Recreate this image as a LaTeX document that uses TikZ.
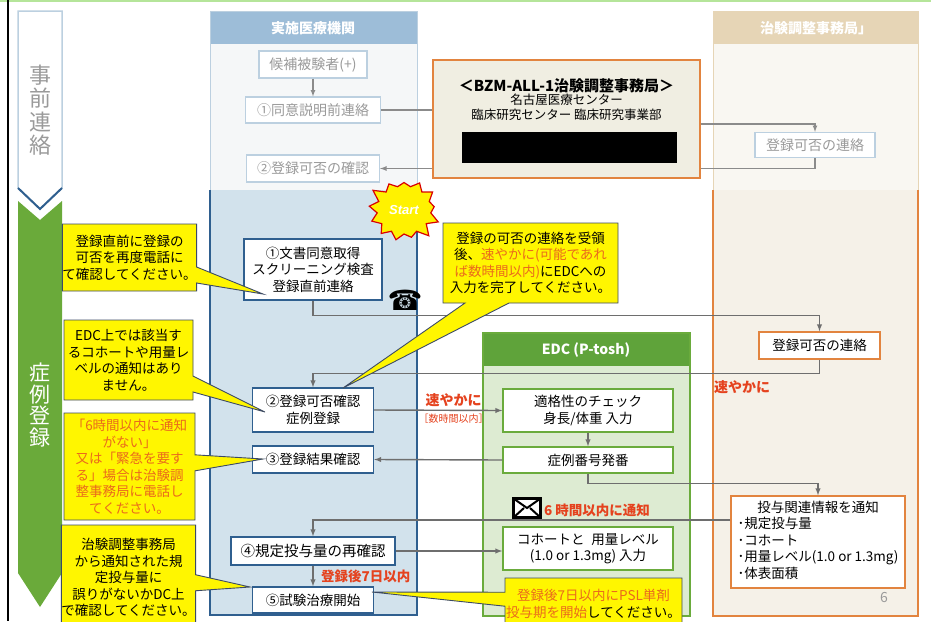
\documentclass[tikz,border=0pt]{standalone}
\usepackage{fontspec}
\setmainfont{Noto Sans CJK JP}
\newfontfamily\symfont{DejaVu Sans}
\newfontfamily\startfont{Liberation Sans}
\usetikzlibrary{arrows.meta,shapes.callouts,shapes.symbols}

\definecolor{boxblue}{HTML}{2F5F8F}
\definecolor{panelblue}{HTML}{D2E2EC}
\definecolor{headblue}{HTML}{9DBDD8}
\definecolor{fadeline}{HTML}{BCD0E0}
\definecolor{fadebg}{HTML}{F5F7F8}
\definecolor{fadetext}{HTML}{9A9A9A}
\definecolor{edchead}{HTML}{5FA33A}
\definecolor{edcbody}{HTML}{DDEBD2}
\definecolor{edcline}{HTML}{6AAB3C}
\definecolor{orgline}{HTML}{E2843F}
\definecolor{bzmfill}{HTML}{F0EEE2}
\definecolor{beige}{HTML}{F5F1E8}
\definecolor{beigefade}{HTML}{F9F7F2}
\definecolor{tanhead}{HTML}{E6D5B6}
\definecolor{notefill}{HTML}{FFF600}
\definecolor{noteline}{HTML}{3C4A66}
\definecolor{noteorange}{HTML}{EA6A1C}
\definecolor{alertred}{HTML}{E5421E}
\definecolor{conngray}{HTML}{6E6E6E}
\definecolor{arrowgreen}{HTML}{6AAA3A}
\definecolor{topgreen}{HTML}{B5E59A}

\tikzset{
  flowbox/.style={draw=boxblue, line width=1.4pt, fill=white, align=center, inner sep=0pt,
    font=\fontsize{13.5}{16.5}\selectfont},
  edcbox/.style={flowbox, draw=edcline},
  orgbox/.style={flowbox, draw=orgline},
  fadebox/.style={draw=fadeline, line width=1.2pt, fill=white, text=fadetext, inner sep=0pt,
    font=\fontsize{14}{16}\selectfont},
  conn/.style={draw=conngray, line width=1.4pt},
  fadeconn/.style={draw=conngray!80, line width=1.2pt},
  note/.style={rectangle callout, fill=notefill, draw=noteline, line width=0.9pt, align=center,
    inner sep=0pt, callout pointer width=16pt, font=\fontsize{13.5}{16.5}\selectfont},
  hot/.style={text=alertred, font=\fontsize{14}{16}\selectfont\bfseries},
  envelope/.style={draw=black, fill=white, line width=2.2pt, minimum width=27pt, minimum height=19pt,
    inner sep=0pt, path picture={
      \draw[line width=2pt] (path picture bounding box.north west) -- (path picture bounding box.center)
        -- (path picture bounding box.north east);
      \draw[line width=2pt] (path picture bounding box.south west) -- ([xshift=-3pt]path picture bounding box.center);
      \draw[line width=2pt] (path picture bounding box.south east) -- ([xshift=3pt]path picture bounding box.center);}},
}
\newcommand{\og}[1]{\textcolor{noteorange}{#1}}

\begin{document}
\begin{tikzpicture}[x=1pt,y=-1pt]
\useasboundingbox (0,0) rectangle (931,621);
\fill[white] (0,0) rectangle (931,621);
\draw[topgreen, line width=2pt] (0,1) -- (931,1);
\draw[black, line width=2pt] (8,0) -- (8,621);

% phase arrows on the left
\draw[fadeline, line width=1.5pt, fill=white] (18,11) -- (62,11) -- (62,188) -- (40,209) -- (18,188) -- cycle;
\draw[boxblue, line width=2pt] (18,188) -- (40,209) -- (62,188);
\fill[arrowgreen] (18,201) -- (40,220) -- (62,201) -- (62,573) -- (40,607) -- (18,573) -- cycle;
\node[text=fadetext, align=center, font=\fontsize{22}{23.5}\selectfont] (pre) at (40,110) {事\\前\\連\\絡};
\node[text=white, align=center, font=\fontsize{21}{21.5}\selectfont] (reg) at (40,405) {症\\例\\登\\録};

% site column
\fill[fadebg] (210,11) rectangle (417,190);
\fill[headblue] (210,11) rectangle (417,44);
\draw[fadeline, line width=1pt] (210,11) rectangle (417,190);
\fill[panelblue] (210,190) rectangle (417,615);
\draw[boxblue, line width=1.2pt] (210,190) -- (210,615) -- (417,615) -- (417,190);
\node[text=white, font=\fontsize{14}{16}\selectfont\bfseries] (sitehead) at (313,28) {実施医療機関};

% office column
\fill[beigefade] (713,11) rectangle (918,190);
\fill[tanhead] (713,11) rectangle (918,44);
\draw[tanhead, line width=1pt] (713,11) rectangle (918,190);
\fill[beige] (713,190) rectangle (918,616);
\draw[orgline, line width=1.2pt] (713,190) -- (713,616) -- (918,616) -- (918,190);
\node[text=white, font=\fontsize{14}{16}\selectfont\bfseries] (offhead) at (816,28) {治験調整事務局」};

% EDC column
\fill[edcbody] (483,333) rectangle (690,616);
\fill[edchead] (483,333) rectangle (690,366);
\draw[edcline, line width=1.2pt] (483,333) rectangle (690,616);
\node[text=white, font=\fontsize{14}{16}\selectfont\bfseries] (edctitle) at (586,350) {EDC (P-tosh)};

% coordinating office
\node[draw=orgline, line width=1.6pt, fill=bzmfill, minimum width=267pt, minimum height=118pt] (bzm) at (566.5,119) {};
\node[font=\fontsize{15}{17}\selectfont\bfseries] (bzmtitle) at (566.5,86) {＜BZM-ALL-1治験調整事務局＞};
\node[font=\fontsize{12.5}{15}\selectfont] (bzmline1) at (566.5,100) {名古屋医療センター};
\node[font=\fontsize{12.5}{15}\selectfont] (bzmline2) at (566.5,115) {臨床研究センター 臨床研究事業部};
\fill[black] (462,132) rectangle (677,163);

% advance contact
\node[fadebox, minimum width=108pt, minimum height=27pt] (f0) at (313,64.5) {候補被験者(+)};
\node[fadebox, minimum width=135pt, minimum height=26pt] (f1) at (313,110) {①同意説明前連絡};
\node[fadebox, minimum width=133pt, minimum height=27pt] (f2) at (313,168.5) {②登録可否の確認};
\node[fadebox, minimum width=120pt, minimum height=25pt] (fr) at (815,145) {登録可否の連絡};

\draw[fadeconn,-latex] (f0) -- (f1);
\draw[fadeconn] (f1.east) -- (f1.east -| bzm.west);
\draw[fadeconn,-latex] ([yshift=-5pt]bzm.east) -| (fr.north);
\draw[fadeconn] (fr.south) |- (f2.east -| bzm.east);
\draw[fadeconn,-latex] (f2.east -| bzm.west) -- (f2.east);

% registration
\node[flowbox, minimum width=138pt, minimum height=61pt] (s1) at (313,269.5) {①文書同意取得\\スクリーニング検査\\登録直前連絡};
\node[flowbox, minimum width=121pt, minimum height=44pt] (s2) at (313,410) {②登録可否確認\\症例登録};
\node[flowbox, minimum width=121pt, minimum height=27pt] (s3) at (313,459.5) {③登録結果確認};
\node[flowbox, minimum width=164pt, minimum height=28pt, font=\fontsize{14.5}{16.5}\selectfont] (s4) at (313,551) {④規定投与量の再確認};
\node[flowbox, minimum width=121pt, minimum height=26pt] (s5) at (313,600) {⑤試験治療開始};

\node[edcbox, minimum width=170pt, minimum height=43pt] (e1) at (588,410.5) {適格性のチェック\\身長/体重 入力};
\node[edcbox, minimum width=170pt, minimum height=26pt] (e2) at (588,460) {症例番号発番};
\node[edcbox, minimum width=170pt, minimum height=43pt] (e3) at (588,548.5) {コホートと\enspace 用量レベル\\(1.0 or 1.3mg) 入力};

\node[orgbox, minimum width=121pt, minimum height=27pt] (r2) at (819.5,345.5) {登録可否の連絡};
\node[orgbox, minimum width=174pt, minimum height=92pt] (info) at (818,542)
  {\begin{tabular}{@{}l@{}}\multicolumn{1}{@{}c@{}}{投与関連情報を通知}\\･規定投与量\\･コホート\\･用量レベル(1.0 or 1.3mg)\\･体表面積\end{tabular}};

\node[starburst, starburst points=13, starburst point height=11pt, random starburst=3, fill=yellow,
  draw=red!85!black, line width=1.2pt, minimum width=76pt, minimum height=70pt, inner sep=0pt,
  text=white, font=\fontsize{13}{14}\startfont\bfseries\itshape] (start) at (404,210) {Start};
\node[font=\fontsize{28}{28}\symfont] (phone) at (405,300) {☎};
\node[envelope] (mail) at (527,508) {};
\node[hot, font=\fontsize{13.5}{16}\selectfont\bfseries] (mailtxt) at (597,510) {6 時間以内に通知};
\node[hot] (soon) at (742,387) {速やかに};
\node[text=fadetext, font=\fontsize{14}{16}\selectfont] (pageno) at (884,597) {6};

\draw[conn,-latex] (s1.south) -- ++(0,15) -| (r2.north);
\draw[conn,-latex] (r2.south) -- ++(0,14) -| (s2.north);
\draw[conn,-latex] (s2.east) -- (e1.west)
  node[pos=0.62, above, hot] (soonb) {速やかに}
  node[pos=0.62, below, text=alertred, font=\fontsize{10}{12}\selectfont] (hours) {［数時間以内］};
\draw[conn,-latex] (e1) -- (e2);
\draw[conn,-latex] (e2.west) -- (s3.east);
\draw[conn,-latex] (e2.south) -- ++(0,10) -| (info.north);
\draw[conn,-latex] ([yshift=22pt]info.west) -| (s4.north);
\draw[conn,-latex] (s4.east) -- (s4.east -| e3.west);
\draw[conn,-latex] (s4) -- (s5) node[midway, right, xshift=4pt, hot, font=\fontsize{13.5}{16}\selectfont\bfseries] (week) {登録後7日以内};

% callouts
\coordinate (tip1) at (263,294);
\coordinate (tip2) at (265,412);
\coordinate (tip3) at (263,459);
\coordinate (tip4) at (250,587);
\coordinate (tip5) at (343,388);
\coordinate (tip6) at (372,592);
\node[note, minimum width=131pt, minimum height=67pt, callout absolute pointer={(tip1)}] (n1) at (129.5,257.5)
  {登録直前に登録の\\可否を再度電話に\\て確認してください。};
\node[note, minimum width=129pt, minimum height=80pt, callout absolute pointer={(tip2)}] (n2) at (128.5,360)
  {EDC上では該当す\\るコホートや用量レ\\ベルの通知はあり\\ません。};
\node[note, minimum width=131pt, minimum height=107pt, text=noteorange, callout absolute pointer={(tip3)}] (n3) at (129.5,466.5)
  {「6時間以内に通知\\がない」\\又は「緊急を要す\\る」場合は治験調\\整事務局に電話し\\てください。};
\node[note, minimum width=129pt, minimum height=105pt, callout absolute pointer={(tip4)}] (n4) at (128.5,577.5)
  {治験調整事務局\\から通知された規\\定投与量に\\誤りがないかDC上\\で確認してください。};
\node[note, minimum width=175pt, minimum height=80pt, callout pointer width=44pt, callout absolute pointer={(tip5)}] (n5) at (530.5,263)
  {登録の可否の連絡を受領\\後、\og{速やかに(可能であれ}\\\og{ば数時間以内)}にEDCへの\\入力を完了してください。};
\node[note, minimum width=177pt, minimum height=52pt, callout pointer width=14pt, callout absolute pointer={(tip6)}] (n6) at (593.5,604)
  {\og{登録後7日以内にPSL単剤}\\\og{投与期を開始}してください。};
\end{tikzpicture}
\end{document}
